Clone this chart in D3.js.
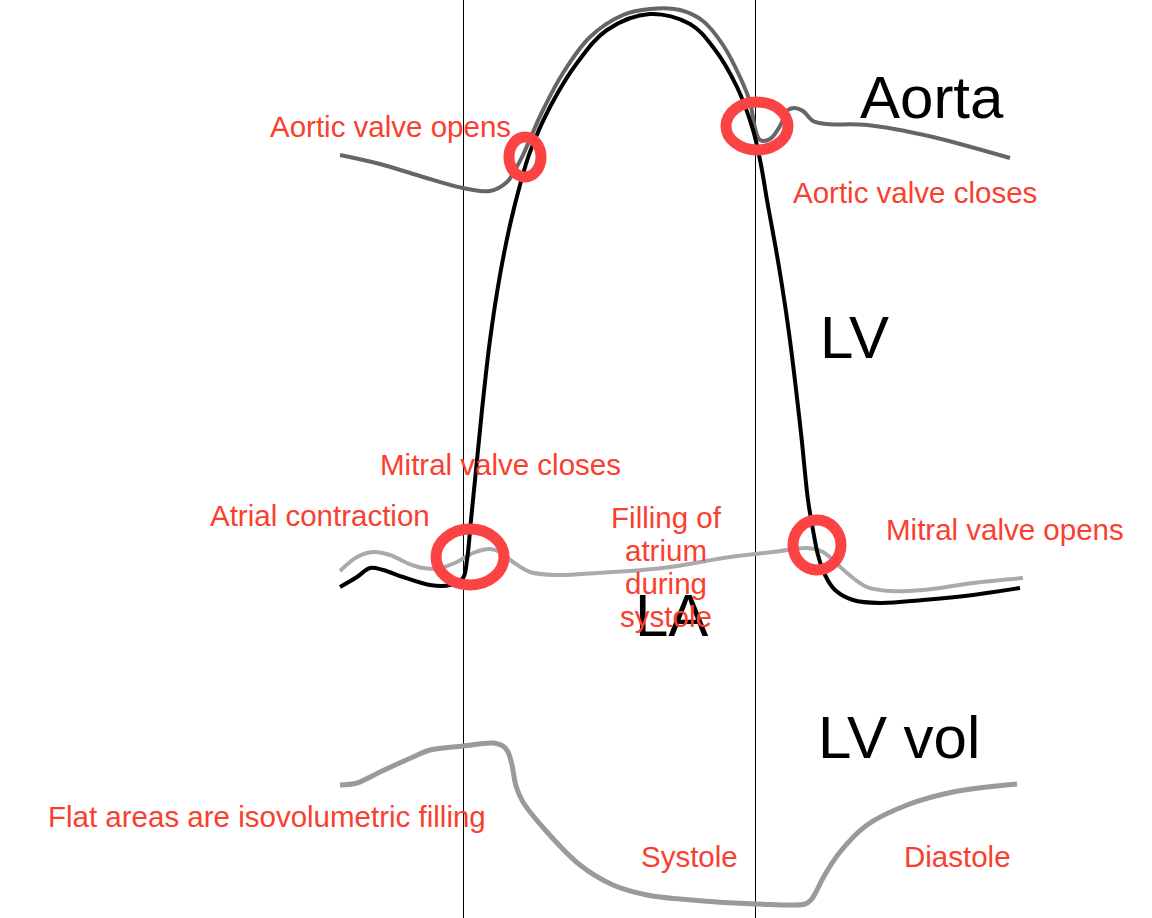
<!DOCTYPE html>
<html>
<head>
<meta charset="utf-8">
<script src="https://cdn.jsdelivr.net/npm/d3@7"></script>
<style>
    html, body { margin: 0; padding: 0; background: #fff; }
    svg { display: block; }
    text { font-family: "Liberation Sans", Arial, Helvetica, sans-serif; }
</style>
</head>
<body>
<div id="chart"></div>
<script>
var aortaT = [0, 0.04, 0.08, 0.123, 0.15, 0.167, 0.175, 0.183, 0.193, 0.203, 0.223, 0.25, 0.283, 0.31, 0.34, 0.363, 0.383, 0.4, 0.41, 0.415, 0.42, 0.43, 0.44, 0.448, 0.455, 0.463, 0.473, 0.487, 0.527, 0.593, 0.67];
var aortaP = [91, 89.2, 86.8, 84.4, 83.8, 85.6, 88, 91, 95.6, 100, 107.4, 114.6, 119, 120.2, 120, 117.8, 113, 106.6, 101.6, 96.4, 94, 94.2, 96.8, 100, 100.4, 99.8, 97.8, 97.2, 97, 94.6, 90.4];

var lvT = [0, 0.017, 0.03, 0.043, 0.063, 0.09, 0.11, 0.123, 0.127, 0.131, 0.136, 0.142, 0.15, 0.16, 0.17, 0.18, 0.19, 0.21, 0.237, 0.267, 0.31, 0.35, 0.373, 0.397, 0.413, 0.421, 0.427, 0.439, 0.449, 0.461, 0.468, 0.473, 0.478, 0.485, 0.495, 0.513, 0.54, 0.583, 0.633, 0.68];
var lvP = [4.6, 6.6, 8.4, 8, 6.6, 5, 5, 6.4, 10, 18, 28, 40, 54, 67, 77, 85, 91.6, 100.6, 109.4, 116, 119.2, 117.2, 112.6, 104.6, 96, 89, 82, 68.6, 55.4, 35.4, 22, 16, 11, 7, 4, 2, 1.4, 2, 3, 4.4];

var laT = [0, 0.017, 0.033, 0.05, 0.067, 0.083, 0.1, 0.117, 0.133, 0.15, 0.16, 0.173, 0.19, 0.217, 0.257, 0.323, 0.39, 0.433, 0.467, 0.483, 0.493, 0.507, 0.527, 0.55, 0.583, 0.633, 0.683];
var laP = [7.8, 10.6, 11.6, 11, 9.4, 8.4, 8.4, 9.6, 11.4, 12.2, 11.6, 9.6, 7.6, 7, 7.4, 8.4, 10.6, 11.6, 12.4, 11.6, 10, 7.4, 4.6, 3.8, 4, 5.4, 6.4];

var volT = [0, 0.017, 0.04, 0.073, 0.09, 0.123, 0.153, 0.163, 0.168, 0.172, 0.176, 0.183, 0.207, 0.24, 0.273, 0.307, 0.34, 0.417, 0.465, 0.471, 0.476, 0.483, 0.5, 0.527, 0.567, 0.613, 0.677];
var volV = [110, 111, 116.5, 124, 127.5, 129.5, 131, 129.5, 126.5, 120, 109.5, 101.5, 86.5, 70, 60, 55, 53, 50.5, 50.5, 52.5, 56.5, 63.5, 76.5, 90, 100, 106.5, 110.5];

// verticale lijnen: mitralisklep dicht en aortaklep dicht
var markerT = [0.123, 0.415];

// klepmomenten (rode ringen)
var valveNames = ["Aortic valve opens", "Aortic valve closes", "Mitral valve closes", "Mitral valve opens"];
var valveT = [0.185, 0.417, 0.13, 0.477];
var valveP = [90.6, 96.8, 10.6, 13];

var curveLabels = ["Aorta", "LV", "LA", "LV vol"];
var noteLabels = ["Aortic valve opens", "Aortic valve closes", "Mitral valve closes", "Atrial contraction", "Mitral valve opens", "Flat areas are isovolumetric filling", "Systole", "Diastole"];
var fillingLines = ["Filling of", "atrium", "during", "systole"];

// ---- opmaak (posities en stijl, niet de data) ----
var width = 1152, height = 918;
var red = "#f9402f";
var ringColor = "#fb4343";
var ringSizes = [[16, 20], [31, 24], [34, 28], [24, 25]];
var curveLabelPos = [[860, 118], [820, 358], [635, 636], [818, 758]];
var notePos = [[270, 137], [793, 203], [380, 475], [210, 526], [886, 540], [48, 827], [641, 867], [904, 867]];

var svg = d3.select("#chart").append("svg")
    .attr("width", width)
    .attr("height", height);

var x = d3.scaleLinear().domain([0, 0.69]).range([340, 1030]);
var yP = d3.scaleLinear().domain([0, 120]).range([610, 10]);
var yV = d3.scaleLinear().domain([50, 130]).range([905, 745]);

function zipPts(ts, vs) {
    return ts.map(function(t, i) { return [t, vs[i]]; });
}

var pressureLine = d3.line()
    .x(function(d) { return x(d[0]); })
    .y(function(d) { return yP(d[1]); })
    .curve(d3.curveCatmullRom.alpha(0.5));

var volumeLine = d3.line()
    .x(function(d) { return x(d[0]); })
    .y(function(d) { return yV(d[1]); })
    .curve(d3.curveCatmullRom.alpha(0.5));

// verticale lijnen over de hele hoogte
svg.selectAll("line.marker")
    .data(markerT)
    .enter()
    .append("line")
    .attr("class", "marker")
    .attr("x1", function(d) { return Math.round(x(d)) + 0.5; })
    .attr("x2", function(d) { return Math.round(x(d)) + 0.5; })
    .attr("y1", 0)
    .attr("y2", height)
    .attr("stroke", "#000")
    .attr("stroke-width", 1);

// curves
svg.append("path")
    .attr("d", pressureLine(zipPts(laT, laP)))
    .attr("fill", "none")
    .attr("stroke", "#aaaaaa")
    .attr("stroke-width", 4);

svg.append("path")
    .attr("d", pressureLine(zipPts(aortaT, aortaP)))
    .attr("fill", "none")
    .attr("stroke", "#666666")
    .attr("stroke-width", 4);

svg.append("path")
    .attr("d", pressureLine(zipPts(lvT, lvP)))
    .attr("fill", "none")
    .attr("stroke", "#000")
    .attr("stroke-width", 4);

svg.append("path")
    .attr("d", volumeLine(zipPts(volT, volV)))
    .attr("fill", "none")
    .attr("stroke", "#9a9a9a")
    .attr("stroke-width", 5);

// namen van de curves
svg.selectAll("text.curve")
    .data(curveLabels)
    .enter()
    .append("text")
    .attr("class", "curve")
    .attr("x", function(d, i) { return curveLabelPos[i][0]; })
    .attr("y", function(d, i) { return curveLabelPos[i][1]; })
    .attr("font-size", 60)
    .attr("fill", "#000")
    .text(function(d) { return d; });

// rode toelichtingen
svg.selectAll("text.note")
    .data(noteLabels)
    .enter()
    .append("text")
    .attr("class", "note")
    .attr("x", function(d, i) { return notePos[i][0]; })
    .attr("y", function(d, i) { return notePos[i][1]; })
    .attr("font-size", 29.5)
    .attr("fill", red)
    .text(function(d) { return d; });

svg.append("text")
    .attr("x", 666)
    .attr("y", 528)
    .attr("font-size", 29.5)
    .attr("fill", red)
    .attr("text-anchor", "middle")
    .selectAll("tspan")
    .data(fillingLines)
    .enter()
    .append("tspan")
    .attr("x", 666)
    .attr("dy", function(d, i) { return i === 0 ? 0 : 33; })
    .text(function(d) { return d; });

// ringen om de klepmomenten
svg.selectAll("ellipse.valve")
    .data(valveNames)
    .enter()
    .append("ellipse")
    .attr("class", "valve")
    .attr("cx", function(d, i) { return x(valveT[i]); })
    .attr("cy", function(d, i) { return yP(valveP[i]); })
    .attr("rx", function(d, i) { return ringSizes[i][0]; })
    .attr("ry", function(d, i) { return ringSizes[i][1]; })
    .attr("fill", "none")
    .attr("stroke", ringColor)
    .attr("stroke-width", 11);
</script>
</body>
</html>
